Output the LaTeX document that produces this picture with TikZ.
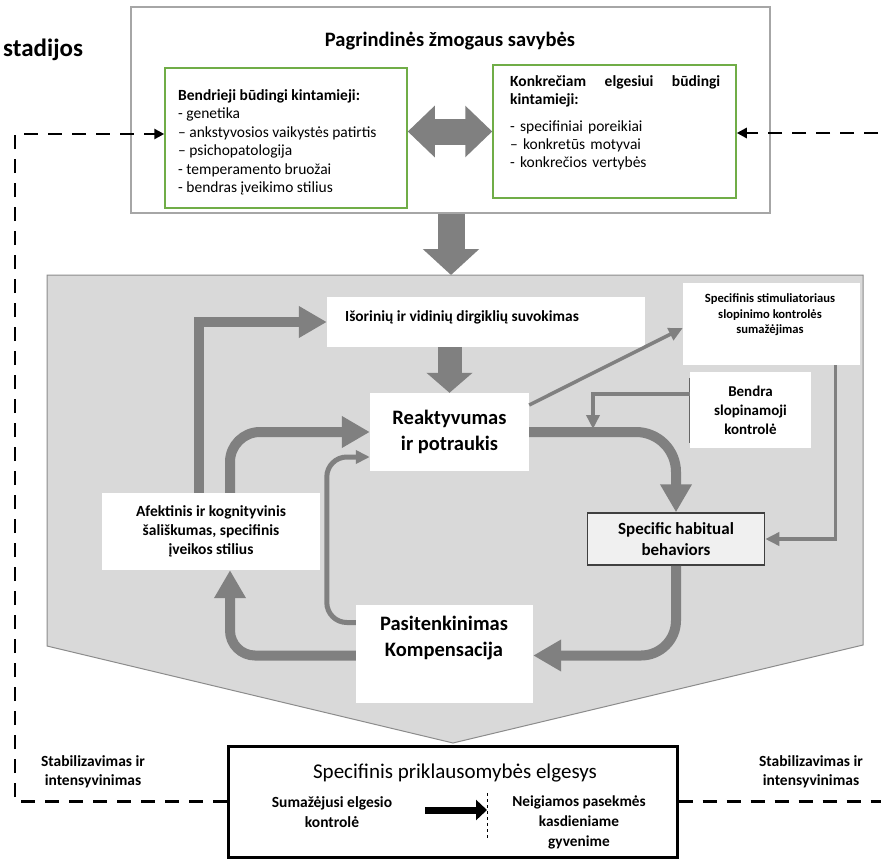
\documentclass[tikz,border=0pt]{standalone}
\usepackage{fontspec}
\setmainfont{Carlito}
\usetikzlibrary{arrows.meta,positioning}
\definecolor{arrowgray}{RGB}{128,128,128}
\definecolor{regiongray}{RGB}{217,217,217}
\definecolor{framegray}{RGB}{166,166,166}
\definecolor{boxgreen}{RGB}{112,173,71}
\newcommand{\fsz}[2]{\fontsize{#1}{#2}\selectfont}

\begin{document}
\begin{tikzpicture}[x=1pt, y=-1pt,
  whitebox/.style={fill=white, inner sep=0pt, align=center},
  greenbox/.style={draw=boxgreen, line width=1.5pt, fill=white, inner sep=0pt},
  fatarrow/.style={draw=arrowgray, line width=10pt, -{Triangle[width=30pt,length=28pt]}},
  thinarrow/.style={draw=arrowgray, line width=3.5pt, -{Triangle[width=13pt,length=14pt]}},
  feedback/.style={draw=black, line width=2.8pt, dash pattern=on 14pt off 10pt,
    -{Triangle[width=10pt,length=10pt]}}]
\useasboundingbox (0,0) rectangle (881,859);
\fill[white] (0,0) rectangle (881,859);
\node[font=\bfseries\fsz{25}{29}, anchor=base west, inner sep=0pt] (stage) at (3,57) {stadijos};

% cycle region
\draw[fill=regiongray, draw=black!45, line width=1pt]
  (47,275) -- (863,275) -- (863,645) -- (453,743) -- (47,646) -- cycle;
\coordinate (regtop) at (451,275);

% core traits
\node[draw=framegray, line width=1.5pt, fill=white, minimum width=639pt, minimum height=206pt] (traits) at (450.5,110) {};
\node[font=\bfseries\fsz{20.5}{24}] (traitsttl) at (450,41) {Pagrindinės žmogaus savybės};
\node[greenbox, minimum width=242pt, minimum height=140pt] (general) at (286,138) {};
\node[font=\fsz{15.5}{18.5}, align=left, anchor=west, inner sep=0pt] (generaltxt) at (178,142.5)
  {\textbf{Bendrieji būdingi kintamieji:}\\- genetika\\– ankstyvosios vaikystės patirtis\\– psichopatologija\\- temperamento bruožai\\- bendras įveikimo stilius};
\node[greenbox, minimum width=243pt, minimum height=133pt] (specific) at (614.5,131.5) {};
\node[font=\fsz{15.5}{18}, text width=210pt, align=left, anchor=west, inner sep=0pt] (specifictxt) at (510,123)
  {\textbf{Konkrečiam\hfill elgesiui\hfill būdingi}\\\textbf{kintamieji:}\\[9pt]- specifiniai poreikiai\\– konkretūs motyvai\\- konkrečios vertybės};
\draw[arrowgray, line width=26pt, {Triangle[width=50pt,length=27pt]}-{Triangle[width=50pt,length=27pt]}]
  (general.east |- specific.west) -- (specific.west);
\draw[arrowgray, line width=27pt, -{Triangle[width=55pt,length=26pt]}] (traits.south -| regtop) -- (regtop);

% cycle boxes
\node[whitebox, minimum width=318pt, minimum height=50pt] (percept) at (486,322) {};
\node[font=\bfseries\fsz{15.4}{18}, anchor=west, inner sep=0pt] (percepttxt) at (345,317) {Išorinių ir vidinių dirgiklių suvokimas};
\node[whitebox, minimum width=177pt, minimum height=82pt] (stim) at (771.5,324) {};
\node[font=\bfseries\fsz{12.6}{15.5}, align=center] (stimtxt) at (770,315) {Specifinis stimuliatoriaus\\slopinimo kontrolės\\sumažėjimas};
\node[whitebox, minimum width=159pt, minimum height=78pt, font=\bfseries\fsz{20.5}{26}] (react) at (449.5,432) {Reaktyvumas\\ir potraukis};
\node[whitebox, minimum width=121pt, minimum height=76pt, font=\bfseries\fsz{15}{19}] (inhib) at (750.5,410) {Bendra\\slopinamoji\\kontrolė};
\draw[black!60, line width=1pt] ([yshift=-6pt]inhib.north west) -- ([yshift=5pt]inhib.south west);
\node[draw=black!75, line width=1.5pt, fill=black!6, minimum width=177pt, minimum height=52pt, align=center,
  inner sep=0pt, font=\bfseries\fsz{17}{21}] (habit) at (676,539) {Specific habitual\\behaviors};
\node[whitebox, minimum width=218pt, minimum height=77pt, font=\bfseries\fsz{15.5}{19}] (bias) at (211,531.5)
  {Afektinis ir kognityvinis\\šališkumas, specifinis\\įveikos stilius};
\node[whitebox, minimum width=177pt, minimum height=98pt] (satisf) at (444.5,653.5) {};
\node[font=\bfseries\fsz{20.5}{26}, align=center] (satisftxt) at (444,638) {Pasitenkinimas\\Kompensacija};

% addictive behaviour
\node[draw=black, line width=3pt, fill=white, minimum width=449pt, minimum height=111pt] (addict) at (452.5,801.5) {};
\node[font=\fsz{21}{25}] (addictttl) at (455,773) {Specifinis priklausomybės elgesys};
\node[font=\bfseries\fsz{15.5}{20}, align=center] (lowctl) at (332,812) {Sumažėjusi elgesio\\kontrolė};
\node[font=\bfseries\fsz{15.3}{20}, align=center] (negcons) at (579,822) {Neigiamos pasekmės\\kasdieniame\\gyvenime};
\coordinate (split) at (487,810);
\draw[black, dashed, line width=.8pt] ([yshift=17pt]split) -- ([yshift=-28pt]split);
\draw[black, line width=7pt, -{Triangle[width=20pt,length=11pt]}] ([xshift=-62pt]split) -- (split);

% feedback loops
\coordinate (lfar) at (15,134);
\coordinate (rfar) at (900,133);
\draw[feedback] (addict.west) -| (lfar) -- (general.west |- lfar);
\draw[feedback] (addict.east) -| (rfar) -- (specific.east |- rfar);
\node[font=\bfseries\fsz{15.5}{19}, align=center] (stabl) at (93,772) {Stabilizavimas ir\\intensyvinimas};
\node[font=\bfseries\fsz{15.5}{19}, align=center] (stabr) at (811,772) {Stabilizavimas ir\\intensyvinimas};

% cycle arrows
\draw[arrowgray, line width=24pt, -{Triangle[width=45pt,length=20pt]}] (react.north |- percept.south) -- (react.north);
\draw[fatarrow] ([xshift=-12pt]bias.north) |- (percept.west);
\draw[fatarrow, rounded corners=30pt] ([xshift=19pt]bias.north) |- (react.west);
\draw[thinarrow, line width=5pt, rounded corners=20pt] ([yshift=31pt]satisf.west) -- ++(-29,0) |- ([yshift=-25pt]react.west);
\coordinate (merge) at (593,429);
\draw[fatarrow, rounded corners=40pt] (react.east) -| (habit.north);
\draw[thinarrow] ([yshift=16pt]inhib.west) -| (merge);
\draw[thinarrow] ([yshift=27pt]react.east) -- ([yshift=-4pt]stim.west);
\draw[thinarrow] ([xshift=64pt]stim.south) |- (habit.east);
\draw[fatarrow, rounded corners=35pt] (habit.south) |- ([yshift=-2pt]satisf.east);
\draw[fatarrow, rounded corners=25pt] ([yshift=-2pt]satisf.west) -| ([xshift=19pt]bias.south);
\end{tikzpicture}
\end{document}
